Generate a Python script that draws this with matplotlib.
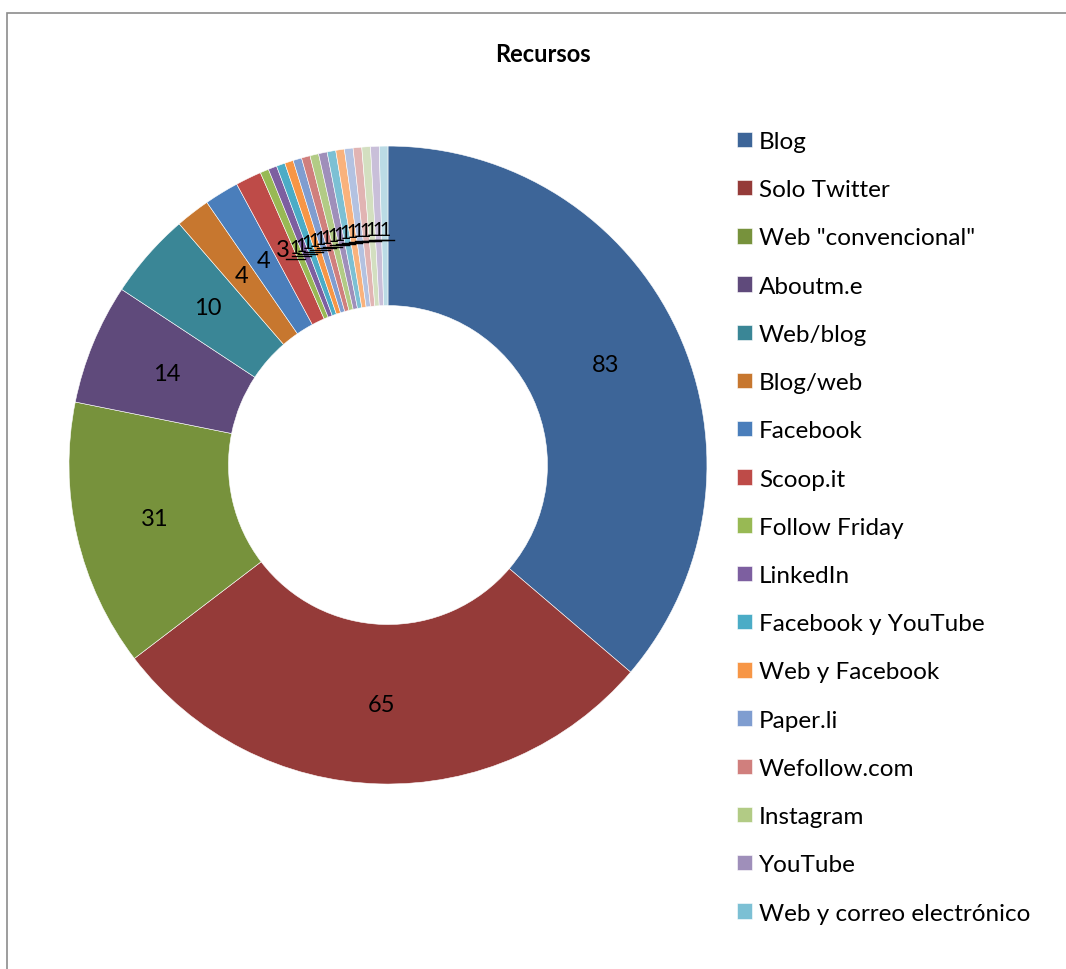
import matplotlib.pyplot as plt
import numpy as np
from matplotlib.patches import Rectangle

plt.rcParams['font.family'] = ['Lato', 'DejaVu Sans']

# data
labels = ["Blog", "Solo Twitter", 'Web "convencional"', "Aboutm.e", "Web/blog",
          "Blog/web", "Facebook", "Scoop.it", "Follow Friday", "LinkedIn",
          "Facebook y YouTube", "Web y Facebook", "Paper.li", "Wefollow.com",
          "Instagram", "YouTube", "Web y correo electrónico",
          "Otro 1", "Otro 2", "Otro 3", "Otro 4", "Otro 5", "Otro 6"]
values = [83, 65, 31, 14, 10, 4, 4, 3, 1, 1, 1, 1, 1, 1, 1, 1, 1, 1, 1, 1, 1, 1, 1]
n_legend = 17  # the legend only lists the first 17 items

colors = ["#3D6598", "#953B39", "#77923C", "#5F4A7B", "#3A8696", "#C7772F",
          "#4A7EBB", "#BE4B48", "#98B954", "#7D5FA0", "#4BACC6", "#F79646",
          "#7F9DD0", "#D07F7D", "#B2CB85", "#9F8FBA", "#7CC0D4",
          "#F9B27C", "#B3C2E1", "#E1B4B3", "#D3DFC0", "#C9BFD9", "#BBDBE5"]

fig = plt.figure(figsize=(10.66, 9.7), dpi=100)

# chart area border (cut by the image edge on the right/bottom)
fig.patches.append(Rectangle((7 / 1066, -0.1), 1.2, 1 - 14 / 970 + 0.1,
                             transform=fig.transFigure, fill=False,
                             edgecolor="#8c8c8c", linewidth=1.2))

ax = fig.add_axes([0.0647, 0.1907, 0.5985, 0.6577])
wedges, _ = ax.pie(values, colors=colors, startangle=90, counterclock=False,
                   radius=1.0, wedgeprops=dict(width=0.5, edgecolor="white", linewidth=0.4))
ax.set_xlim(-1, 1)
ax.set_ylim(-1, 1)
ax.set_aspect("equal")

# data labels in the middle of the ring
for w, v in zip(wedges, values):
    ang = np.deg2rad((w.theta1 + w.theta2) / 2)
    r = 0.75
    x, y = r * np.cos(ang), r * np.sin(ang)
    if v == 1:
        y = y - 0.03
        ax.text(x, y + 0.02, str(v), ha="center", va="center", fontsize=14)
        ax.plot([x - 0.03, x + 0.03], [y - 0.015, y - 0.015], color="black", lw=1.0)
    else:
        ax.text(x, y, str(v), ha="center", va="center", fontsize=17)

fig.text(543 / 1066, 1 - 54 / 970, "Recursos", ha="center", va="center",
         fontsize=17, fontweight="bold")

fig.legend(wedges[:n_legend], labels[:n_legend], loc="upper left",
           bbox_to_anchor=(737 / 1066, 1 - 132 / 970), frameon=False,
           fontsize=17.5, handlelength=0.6, handleheight=0.6,
           handletextpad=0.3, labelspacing=1.12, borderpad=0, borderaxespad=0)

plt.savefig("out.png", dpi=100)
